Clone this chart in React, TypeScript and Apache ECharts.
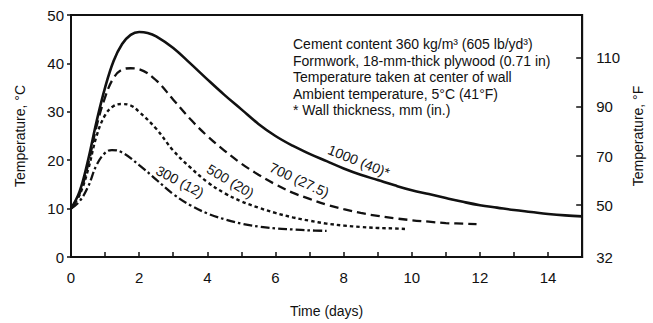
import React, { useEffect, useRef } from "react";
import * as echarts from "echarts";

// Time (days) and temperature (°C) for each wall thickness
const days1000 = [0, 0.25, 0.5, 0.75, 1, 1.25, 1.5, 1.75, 2, 2.25, 2.5, 3, 3.5, 4, 4.5, 5, 5.5, 6, 6.5, 7, 7.5, 8, 8.5, 9, 9.5, 10, 10.5, 11, 11.5, 12, 12.5, 13, 13.5, 14, 14.5, 15];
const temp1000 = [10, 13.5, 20, 28, 35, 40.5, 44, 45.9, 46.5, 46.3, 45.6, 43.2, 40, 36.7, 33.5, 30.5, 27.5, 25, 23, 21.3, 19.8, 18.3, 17, 15.9, 14.8, 13.8, 13, 12.2, 11.4, 10.7, 10.2, 9.7, 9.3, 8.9, 8.6, 8.4];

const days700 = [0, 0.25, 0.5, 0.75, 1, 1.25, 1.5, 1.75, 2, 2.5, 3, 3.5, 4, 4.5, 5, 5.5, 6, 6.5, 7, 7.5, 8, 8.5, 9, 9.5, 10, 10.5, 11, 11.5, 11.9];
const temp700 = [10, 13, 19, 27, 33, 37, 38.7, 39, 38.8, 36.5, 32.5, 28.5, 25, 22, 19.3, 17, 15, 13.3, 12, 10.8, 9.9, 9.1, 8.5, 8, 7.6, 7.3, 7.0, 6.9, 6.8];

const days500 = [0, 0.25, 0.5, 0.75, 1, 1.25, 1.5, 1.75, 2, 2.5, 3, 3.5, 4, 4.5, 5, 5.5, 6, 6.5, 7, 7.5, 8, 8.5, 9, 9.5, 9.8];
const temp500 = [10, 12.8, 18, 25, 29.3, 31.2, 31.6, 31.3, 30, 26.5, 22, 18.5, 15.5, 13.2, 11.5, 10.2, 9.1, 8.2, 7.5, 6.9, 6.5, 6.2, 6.0, 5.9, 5.8];

const days300 = [0, 0.25, 0.5, 0.75, 1, 1.2, 1.5, 2, 2.5, 3, 3.5, 4, 4.5, 5, 5.5, 6, 6.5, 7, 7.5];
const temp300 = [10, 11.5, 14.5, 19, 21.5, 22.1, 21.6, 19, 16, 13, 10.7, 9.0, 7.8, 6.9, 6.3, 5.9, 5.7, 5.5, 5.4];

const curveLabels = ["1000 (40)*", "700 (27.5)", "500 (20)", "300 (12)"];
const labelCoords = [[8.45, 19.8], [6.7, 15.9], [4.68, 15.7], [3.2, 15.6]];
const labelAngles = [-22, -25, -31, -28];

const xTicks = [0, 2, 4, 6, 8, 10, 12, 14];
const fTicks = [50, 70, 90, 110];
const fBottomLabel = "32";

const notes = [
  "Cement content 360 kg/m³ (605 lb/yd³)",
  "Formwork, 18-mm-thick plywood (0.71 in)",
  "Temperature taken at center of wall",
  "Ambient temperature, 5°C (41°F)",
  "* Wall thickness, mm (in.)",
];

const FONT = "'Liberation Sans', Arial, sans-serif";

function pairs(xs: number[], ys: number[]) {
  return xs.map((x, i) => [x, ys[i]]);
}

export default function App() {
  const ref = useRef<HTMLDivElement>(null);
  useEffect(() => {
    if (!ref.current) return;
    const chart = echarts.init(ref.current, undefined, { renderer: "svg" });
    const fMin = 28.9;
    const fMax = 127.4;
    const styles = [
      { width: 2.6, type: "solid" as any },
      { width: 2.3, type: [9, 5] as any },
      { width: 2.4, type: [3.5, 3] as any },
      { width: 2.3, type: [9, 3, 2.5, 3] as any },
    ];
    const datasets = [
      pairs(days1000, temp1000),
      pairs(days700, temp700),
      pairs(days500, temp500),
      pairs(days300, temp300),
    ];
    chart.setOption({
      animation: false,
      textStyle: { fontFamily: FONT },
      grid: {
        left: 71,
        right: 63,
        top: 15,
        bottom: 65,
        show: true,
        borderColor: "#111",
        borderWidth: 2,
        backgroundColor: "transparent",
      },
      xAxis: {
        type: "value",
        min: 0,
        max: 15,
        interval: 1,
        name: "Time (days)",
        nameLocation: "middle",
        nameGap: 47,
        nameTextStyle: { fontSize: 14, color: "#111", fontFamily: FONT },
        axisLine: { show: true, lineStyle: { color: "#111", width: 2 } },
        axisTick: { show: true, inside: true, length: 5, lineStyle: { color: "#111", width: 1.5 } },
        axisLabel: {
          customValues: xTicks,
          fontSize: 15,
          color: "#111",
          margin: 13,
          fontFamily: FONT,
        },
        splitLine: { show: false },
      },
      yAxis: [
        {
          type: "value",
          min: 0,
          max: 50,
          interval: 10,
          name: "Temperature, °C",
          nameLocation: "middle",
          nameGap: 44,
          nameTextStyle: { fontSize: 14, color: "#111", fontFamily: FONT },
          axisLine: { show: true, lineStyle: { color: "#111", width: 2 } },
          axisTick: { show: true, inside: false, length: 4, lineStyle: { color: "#111", width: 1.5 } },
          axisLabel: { fontSize: 15, color: "#111", margin: 7, fontFamily: FONT },
          splitLine: { show: false },
        },
        {
          type: "value",
          position: "right",
          min: fMin,
          max: fMax,
          name: "Temperature, °F",
          nameLocation: "middle",
          nameGap: 38,
          nameRotate: 90,
          nameTextStyle: { fontSize: 14, color: "#111", fontFamily: FONT },
          axisLine: { show: true, onZero: false, lineStyle: { color: "#111", width: 2 } },
          axisTick: {
            show: true,
            inside: true,
            length: 6,
            customValues: fTicks,
            lineStyle: { color: "#111", width: 1.5 },
          },
          axisLabel: {
            customValues: [fMin, ...fTicks],
            formatter: (v: number) => (v < 30 ? fBottomLabel : String(v)),
            fontSize: 15,
            color: "#111",
            margin: 14,
            fontFamily: FONT,
          },
          splitLine: { show: false },
        },
      ],
      graphic: [
        {
          type: "text",
          left: 293,
          top: 36,
          style: {
            text: notes.join("\n"),
            font: `14px ${FONT}`,
            fill: "#111",
            lineHeight: 16.5,
          },
        },
      ],
      series: datasets.map((d, i) => ({
        type: "line",
        data: d,
        smooth: 0.4,
        showSymbol: false,
        symbol: "none",
        yAxisIndex: 0,
        lineStyle: { color: "#111", width: styles[i].width, type: styles[i].type },
        markPoint: {
          symbol: "circle",
          symbolSize: 0,
          silent: true,
          data: [
            {
              coord: labelCoords[i],
              label: {
                show: true,
                formatter: curveLabels[i],
                position: "inside",
                rotate: labelAngles[i],
                color: "#111",
                fontSize: 14,
                fontFamily: FONT,
              },
            },
          ],
        },
      })),
    });
    return () => chart.dispose();
  }, []);
  return (
    <div
      ref={ref}
      style={{ position: "fixed", left: 0, top: 0, width: 653, height: 323, background: "#fff" }}
    />
  );
}
